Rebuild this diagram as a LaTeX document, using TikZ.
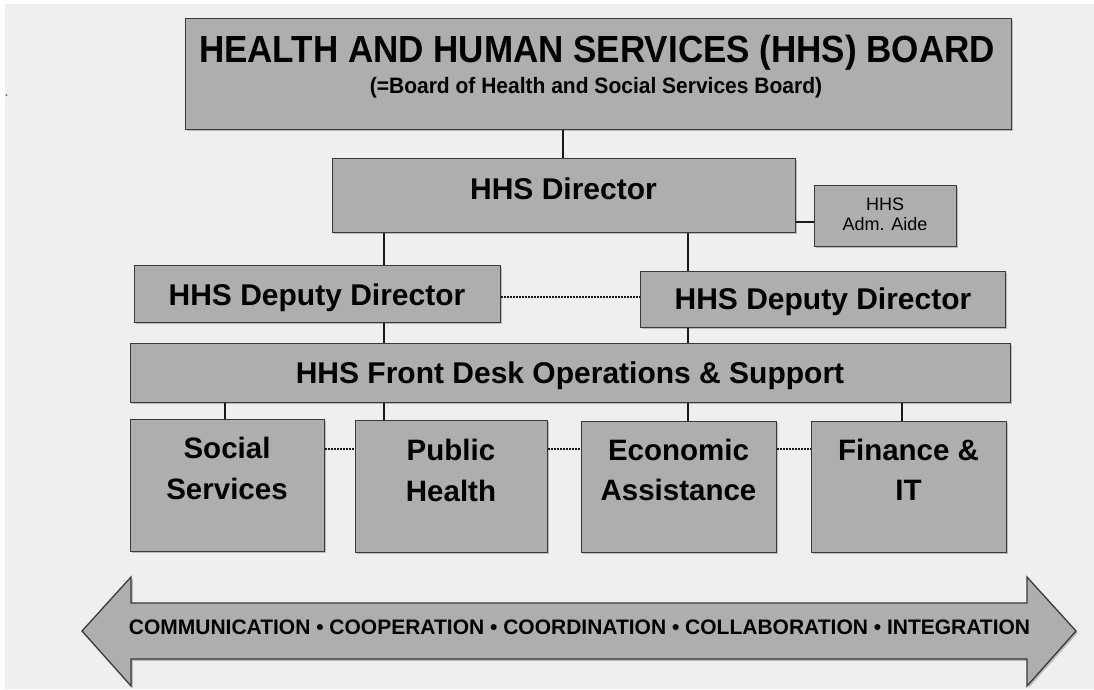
\documentclass[tikz,border=0pt]{standalone}
\usepackage{fontspec}
\setmainfont{Liberation Sans}
\usetikzlibrary{shadows}
\definecolor{bg}{HTML}{EFEFEF}
\definecolor{boxfill}{HTML}{AEAEAE}
\definecolor{boxline}{HTML}{3A3A3A}
\begin{document}
\begin{tikzpicture}[x=1pt,y=-1pt,
  box/.style={draw=boxline, fill=boxfill, line width=1.3pt, rectangle, inner sep=0pt, anchor=north west,
    drop shadow={shadow xshift=1.8pt, shadow yshift=-1.8pt, fill=black, opacity=0.22}},
  link/.style={draw=black!90, line width=1.5pt},
  dotlink/.style={draw=black!90, line width=2pt, dash pattern=on 1.5pt off 1.5pt},
  txt/.style={anchor=base, inner sep=0pt, text=black},
  bigtxt/.style={txt, font=\fontsize{30}{36}\selectfont\bfseries},
  unittxt/.style={txt, font=\fontsize{29.5}{36}\selectfont\bfseries},
]
\useasboundingbox (0,0) rectangle (1094,689);
\fill[white] (0,0) rectangle (1094,689);
\fill[bg] (5,4) rectangle (1094,689);
\fill[black!60] (6.5,95) circle (1pt);

% boxes
\node[box, minimum width=826pt, minimum height=111pt] (board) at (185,18) {};
\node[box, minimum width=463pt, minimum height=74pt] (director) at (332,158) {};
\node[box, minimum width=142pt, minimum height=61pt] (aide) at (814,185) {};
\node[box, minimum width=366pt, minimum height=57pt] (depL) at (134,265) {};
\node[box, minimum width=365pt, minimum height=56pt] (depR) at (640,271) {};
\node[box, minimum width=880pt, minimum height=59pt] (front) at (130,343) {};
\node[box, minimum width=194pt, minimum height=132pt] (social) at (130,419) {};
\node[box, minimum width=192pt, minimum height=132pt] (public) at (355,420) {};
\node[box, minimum width=195pt, minimum height=131pt] (econ) at (581,421) {};
\node[box, minimum width=195pt, minimum height=131pt] (fin) at (811,421) {};

% arrow
\filldraw[draw=boxline, fill=boxfill, line width=1.3pt, line join=miter,
  drop shadow={shadow xshift=1.8pt, shadow yshift=-1.8pt, fill=black, opacity=0.22}]
  (82,631) -- (131,577) -- (131,603) -- (1027,603) -- (1027,577) -- (1076,631)
  -- (1027,686) -- (1027,659) -- (131,659) -- (131,686) -- cycle;

% x positions of connectors
\coordinate (xa) at (225,0);
\coordinate (xb) at (384,0);
\coordinate (xc) at (688,0);
\coordinate (xd) at (902,0);
\coordinate (xtop) at (563,0);
\coordinate (yaide) at (0,222);
\coordinate (ydep) at (0,297);
\coordinate (yunit) at (0,449);

% connectors
\draw[link] (board.south -| xtop) -- (director.north -| xtop);
\draw[link] (director.south -| xb) -- (depL.north -| xb);
\draw[link] (director.south -| xc) -- (depR.north -| xc);
\draw[link] (director.east |- yaide) -- (aide.west |- yaide);
\draw[link] (depL.south -| xb) -- (front.north -| xb);
\draw[link] (depR.south -| xc) -- (front.north -| xc);
\draw[link] (front.south -| xa) -- (social.north -| xa);
\draw[link] (front.south -| xb) -- (public.north -| xb);
\draw[link] (front.south -| xc) -- (econ.north -| xc);
\draw[link] (front.south -| xd) -- (fin.north -| xd);
\draw[dotlink] (depL.east |- ydep) -- (depR.west |- ydep);
\draw[dotlink] (social.east |- yunit) -- (public.west |- yunit);
\draw[dotlink] (public.east |- yunit) -- (econ.west |- yunit);
\draw[dotlink] (econ.east |- yunit) -- (fin.west |- yunit);

% texts
\node[txt, font=\fontsize{35}{40}\selectfont\bfseries] at (597,62) {\scalebox{1}[1.08]{HEALTH AND HUMAN SERVICES (HHS) BOARD}};
\node[txt, font=\fontsize{21}{25}\selectfont\bfseries] at (596,93) {\scalebox{1}[1.06]{(=Board of Health and Social Services Board)}};
\node[bigtxt] at (563.5,199) {HHS Director};
\node[txt, font=\fontsize{18}{20}\selectfont] at (885,210) {HHS};
\node[txt, font=\fontsize{18}{20}\selectfont] at (885,230) {Adm. Aide};
\node[bigtxt] at (317,305) {HHS Deputy Director};
\node[bigtxt] at (823,309) {HHS Deputy Director};
\node[bigtxt] at (570,383) {HHS Front Desk Operations \& Support};
\node[unittxt] at (227,458) {Social};
\node[unittxt] at (227,499) {Services};
\node[unittxt] at (451,460) {Public};
\node[unittxt] at (451,501) {Health};
\node[unittxt] at (678.5,460) {Economic};
\node[unittxt] at (678.5,500) {Assistance};
\node[unittxt] at (908.5,460) {Finance \&};
\node[unittxt] at (908.5,500) {IT};
\node[txt, font=\fontsize{21}{25}\selectfont\bfseries] at (579.5,634)
  {COMMUNICATION • COOPERATION • COORDINATION • COLLABORATION • INTEGRATION};
\end{tikzpicture}
\end{document}
